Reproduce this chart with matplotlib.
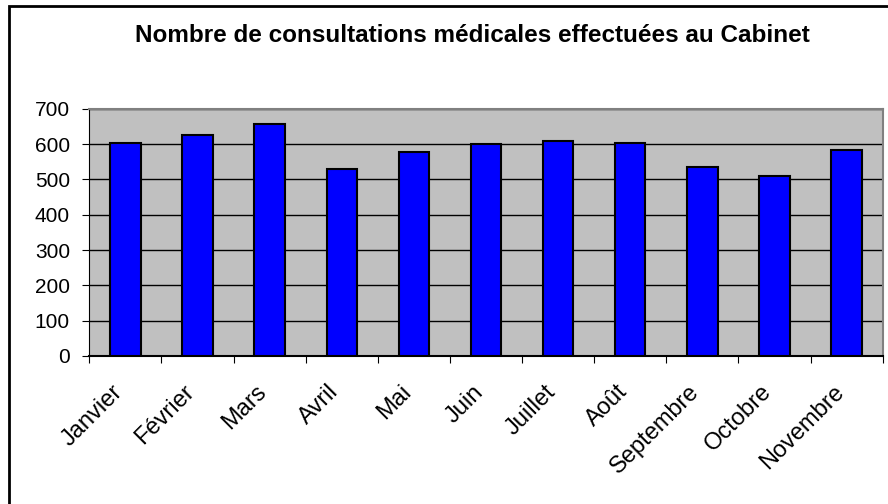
import numpy as np
import matplotlib
matplotlib.use("Agg")
import matplotlib.pyplot as plt
from matplotlib.patches import Rectangle
from matplotlib.transforms import ScaledTranslation

plt.rcParams['font.family'] = ['Liberation Sans', 'DejaVu Sans']

# Données
mois = ['Janvier', 'Février', 'Mars', 'Avril', 'Mai', 'Juin', 'Juillet',
        'Août', 'Septembre', 'Octobre', 'Novembre']
consultations = [604, 625, 657, 529, 577, 599, 609, 604, 536, 509, 582]
y_ticks = [0, 100, 200, 300, 400, 500, 600, 700]

fig = plt.figure(figsize=(8.88, 5.04), dpi=100)
ax = fig.add_axes([0.1006, 0.2937, 0.8934, 0.4906])

# cadre du graphique (coupé à droite et en bas)
fig.patches.append(Rectangle((8.5 / 888, -0.1), 1.2, 1 - 6 / 504 + 0.1,
                             transform=fig.transFigure, fill=False,
                             edgecolor='black', linewidth=2, zorder=0))

x = np.arange(len(mois))
ax.set_facecolor('#C0C0C0')
ax.bar(x, consultations, width=0.42, color='#0000FF', edgecolor='black',
       linewidth=1.5, zorder=3)

ax.set_xlim(-0.5, len(mois) - 0.5)
ax.set_ylim(0, 700)
ax.set_yticks(y_ticks)
ax.set_yticklabels([str(v) for v in y_ticks], fontsize=15)
ax.yaxis.grid(True, color='black', linewidth=1, zorder=1)
ax.set_axisbelow(True)

# ticks x entre les catégories
ax.set_xticks(np.arange(len(mois) + 1) - 0.5)
ax.set_xticklabels([])
ax.set_xticks(x, minor=True)
ax.set_xticklabels(mois, minor=True, rotation=45, ha='right',
                   rotation_mode='anchor', fontsize=17)
ax.tick_params(axis='x', which='minor', length=0, pad=18)
ax.tick_params(axis='x', which='major', length=5, color='black')
ax.tick_params(axis='y', length=5, pad=9)
shift = ScaledTranslation(-14 / 100, 0, fig.dpi_scale_trans)
for lbl in ax.get_xticklabels(minor=True):
    lbl.set_transform(lbl.get_transform() + shift)

for s in ['top', 'right']:
    ax.spines[s].set_color('#808080')
    ax.spines[s].set_linewidth(1.5)
ax.spines['left'].set_color('black')
ax.spines['bottom'].set_color('black')
ax.spines['bottom'].set_linewidth(1.5)

fig.text(472 / 888, 1 - 35 / 504,
         'Nombre de consultations médicales effectuées au Cabinet',
         ha='center', va='center', fontsize=17.5, fontweight='bold')

fig.savefig('out.png', dpi=100)
